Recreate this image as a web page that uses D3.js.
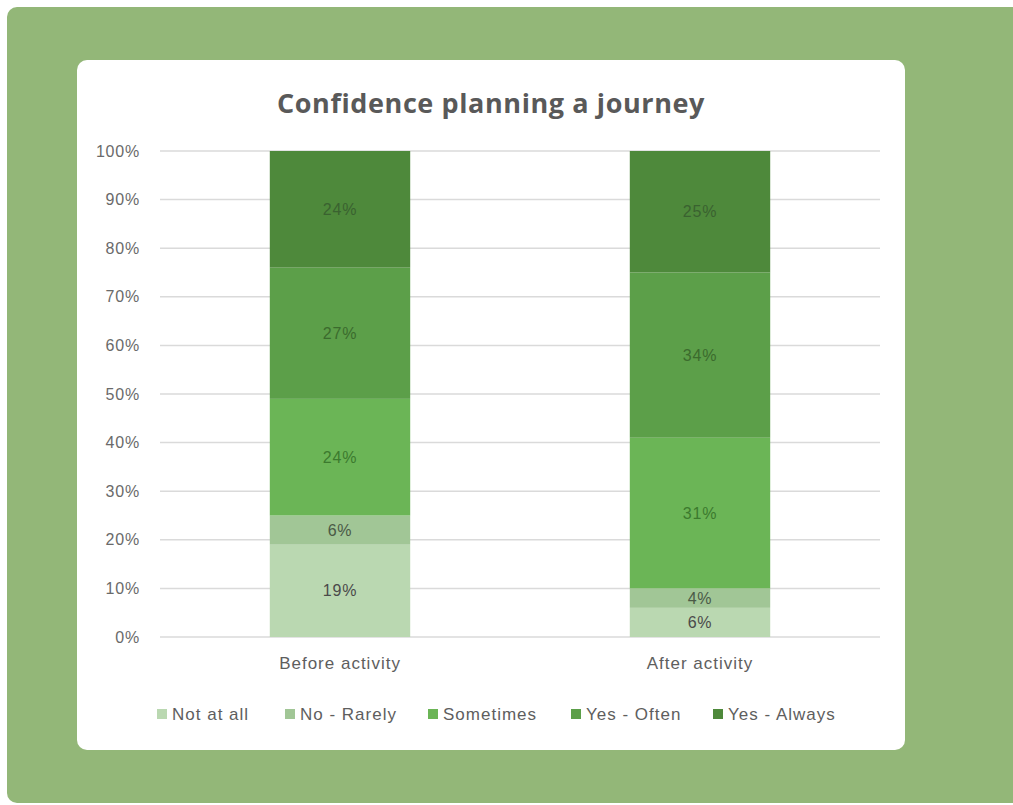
<!DOCTYPE html>
<html>
<head>
<meta charset="utf-8">
<script src="https://cdn.jsdelivr.net/npm/d3@7.9.0/dist/d3.min.js"></script>
<style>
  body { margin: 0; background: #fff; }
  svg { display: block; }
</style>
</head>
<body>
<svg id="chart" width="1013" height="805"></svg>
<script>
// data
const categories = ['Before activity', 'After activity'];
const seriesNames = ['Not at all', 'No - Rarely', 'Sometimes', 'Yes - Often', 'Yes - Always'];
const notAtAll   = [19, 6];
const noRarely   = [6, 4];
const sometimes  = [24, 31];
const yesOften   = [27, 34];
const yesAlways  = [24, 25];
const yTicks = [0, 10, 20, 30, 40, 50, 60, 70, 80, 90, 100];

const colors = ['#bad8b1', '#a1c696', '#6bb556', '#5c9f49', '#4e893b'];
const labelColors = ['#4a4a4a', '#4a5a46', '#3c7a2e', '#3b6b2d', '#3a6230'];

const rows = categories.map((c, i) => ({
  cat: c,
  'Not at all': notAtAll[i],
  'No - Rarely': noRarely[i],
  'Sometimes': sometimes[i],
  'Yes - Often': yesOften[i],
  'Yes - Always': yesAlways[i]
}));

const svg = d3.select('#chart');
const font = 'Liberation Sans, sans-serif';

// green panel
svg.append('rect')
  .attr('x', 7).attr('y', 7).attr('width', 1030).attr('height', 796)
  .attr('rx', 10).attr('fill', '#93b778');

// white card
svg.append('rect')
  .attr('x', 77).attr('y', 60).attr('width', 828).attr('height', 690)
  .attr('rx', 10).attr('fill', '#fff');

svg.append('text')
  .attr('x', 491).attr('y', 113)
  .attr('text-anchor', 'middle')
  .attr('font-family', 'Open Sans, sans-serif')
  .attr('font-weight', 'bold')
  .attr('font-size', 27)
  .attr('letter-spacing', 0.6)
  .attr('fill', '#595959')
  .text('Confidence planning a journey');

const plotL = 160, plotR = 880, plotT = 151, plotB = 637;

const x = d3.scaleBand().domain(categories).range([plotL, plotR]).paddingInner(0.61).paddingOuter(0.305);
const y = d3.scaleLinear().domain([0, 100]).range([plotB, plotT]);

// gridlines
svg.append('g')
  .selectAll('line').data(yTicks).join('line')
  .attr('x1', plotL).attr('x2', plotR)
  .attr('y1', d => y(d)).attr('y2', d => y(d))
  .attr('stroke', '#dadada').attr('stroke-width', 1.5);

// y axis labels
const yAxis = svg.append('g')
  .attr('transform', `translate(${plotL - 17},0)`)
  .call(d3.axisLeft(y).tickValues(yTicks).tickFormat(d => d + '%').tickSize(0));
yAxis.select('.domain').remove();
yAxis.selectAll('text')
  .attr('font-family', font).attr('font-size', 16).attr('letter-spacing', 0.8)
  .attr('fill', '#6a6a6a');

const stack = d3.stack().keys(seriesNames)(rows);

const layers = svg.append('g').selectAll('g').data(stack).join('g')
  .attr('fill', (d, i) => colors[i]);

layers.selectAll('rect').data(d => d).join('rect')
  .attr('x', d => x(d.data.cat))
  .attr('width', x.bandwidth())
  .attr('y', d => y(d[1]))
  .attr('height', d => y(d[0]) - y(d[1]));

stack.forEach((layer, i) => {
  svg.append('g').selectAll('text').data(layer).join('text')
    .attr('x', d => x(d.data.cat) + x.bandwidth() / 2)
    .attr('y', d => (y(d[0]) + y(d[1])) / 2)
    .attr('dy', '0.35em')
    .attr('text-anchor', 'middle')
    .attr('font-family', font)
    .attr('font-size', 16)
    .attr('letter-spacing', 0.8)
    .attr('fill', labelColors[i])
    .text(d => (d[1] - d[0]) + '%');
});

// x axis labels
const xAxis = svg.append('g')
  .attr('transform', `translate(0,${plotB + 17})`)
  .call(d3.axisBottom(x).tickSize(0));
xAxis.select('.domain').remove();
xAxis.selectAll('text')
  .attr('font-family', font).attr('font-size', 17).attr('letter-spacing', 1)
  .attr('fill', '#5e5e5e');

// legend
const legendX = [157, 285, 428, 571, 713];
const legend = svg.append('g').selectAll('g').data(seriesNames).join('g')
  .attr('transform', (d, i) => `translate(${legendX[i]},714)`);
legend.append('rect')
  .attr('x', 0).attr('y', -5).attr('width', 10).attr('height', 10)
  .attr('fill', (d, i) => colors[i]);
legend.append('text')
  .attr('x', 15).attr('dy', '0.35em')
  .attr('font-family', font).attr('font-size', 17).attr('letter-spacing', 1)
  .attr('fill', '#5e5e5e')
  .text(d => d);
</script>
</body>
</html>
